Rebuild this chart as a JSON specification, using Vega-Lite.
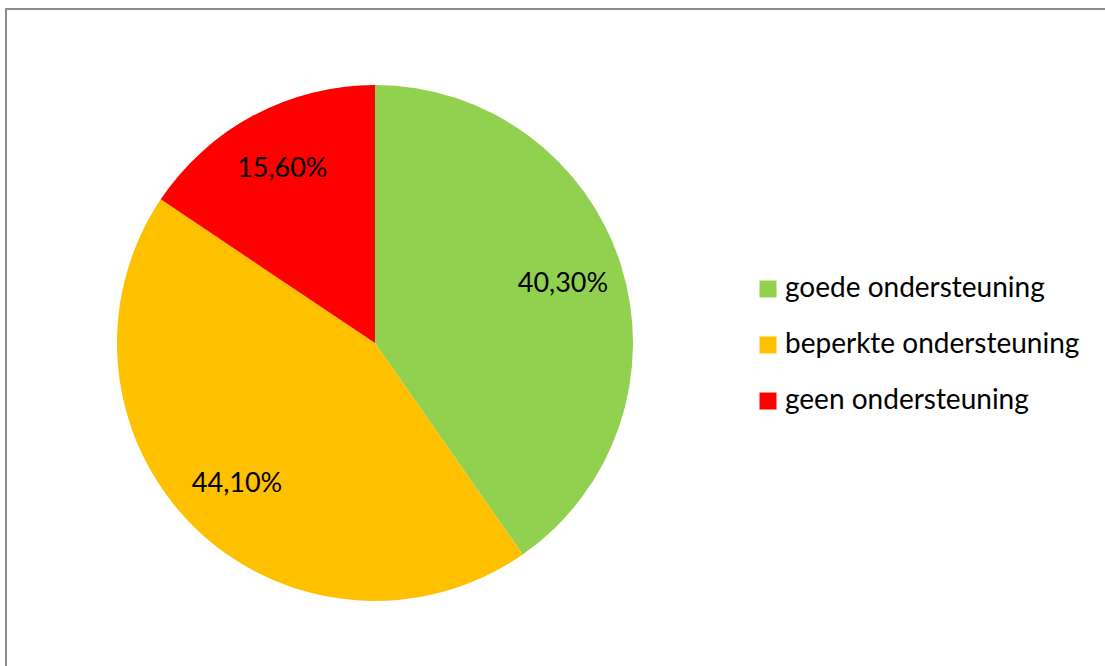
{
  "$schema": "https://vega.github.io/schema/vega-lite/v6.json",
  "width": 1110,
  "height": 670,
  "autosize": {"type": "none"},
  "padding": {"left": 6, "top": 9, "right": 0, "bottom": 0},
  "background": "white",
  "data": {
    "values": [
      {"categorie": "goede ondersteuning", "aandeel": 0.403, "volgorde": 1},
      {"categorie": "beperkte ondersteuning", "aandeel": 0.441, "volgorde": 2},
      {"categorie": "geen ondersteuning", "aandeel": 0.156, "volgorde": 3}
    ]
  },
  "layer": [
    {
      "mark": {"type": "rule", "opacity": 0},
      "encoding": {
        "y": {"datum": 0, "type": "quantitative", "axis": null}
      }
    },
    {
      "mark": {"type": "arc", "outerRadius": 258, "x": 369, "y": 334},
      "encoding": {
        "theta": {"field": "aandeel", "type": "quantitative", "stack": true},
        "order": {"field": "volgorde", "type": "quantitative"},
        "color": {
          "field": "categorie",
          "type": "nominal",
          "scale": {
            "domain": ["goede ondersteuning", "beperkte ondersteuning", "geen ondersteuning"],
            "range": ["#92D050", "#FFC000", "#FF0000"]
          },
          "legend": {
            "orient": "none",
            "legendX": 748,
            "legendY": 266,
            "title": null,
            "symbolType": "square",
            "symbolSize": 289,
            "symbolStrokeWidth": 0,
            "labelFont": "Lato",
            "labelFontSize": 28,
            "labelColor": "black",
            "labelOffset": 3,
            "rowPadding": 28,
            "labelLimit": 400
          }
        }
      }
    },
    {
      "mark": {"type": "text", "radius": 197, "x": 369, "y": 334, "font": "Lato", "fontSize": 27, "color": "black"},
      "encoding": {
        "theta": {"field": "aandeel", "type": "quantitative", "stack": true},
        "order": {"field": "volgorde", "type": "quantitative"},
        "text": {"field": "aandeel", "type": "quantitative", "format": ".2%"}
      }
    }
  ],
  "config": {
    "view": {"stroke": "#8c8c8c", "strokeWidth": 2},
    "locale": {
      "number": {"decimal": ",", "thousands": ".", "grouping": [3], "currency": ["€", ""]}
    }
  }
}
